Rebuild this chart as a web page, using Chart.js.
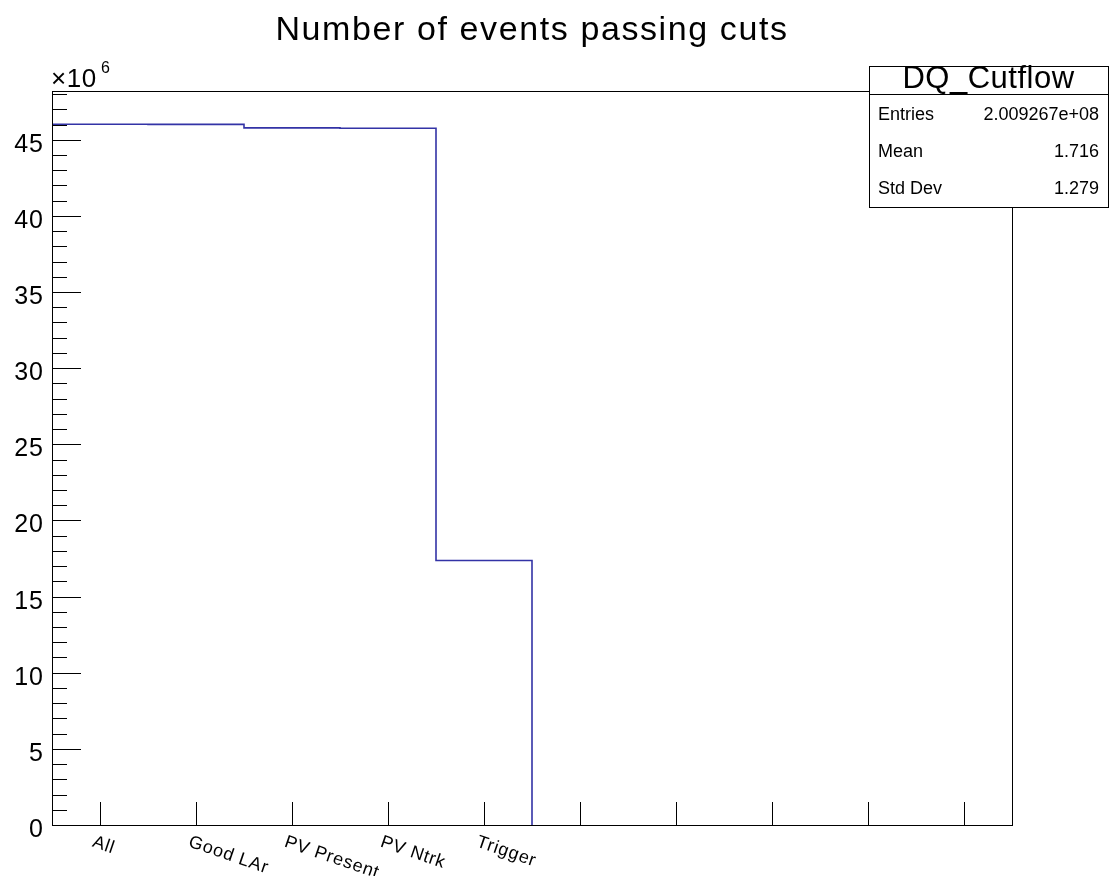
<!DOCTYPE html>
<html>
<head>
<meta charset="utf-8">
<script src="https://cdn.jsdelivr.net/npm/chart.js@4"></script>
<style>
  html, body { margin: 0; padding: 0; background: #fff; }
  #wrap { width: 1110px; height: 876px; }
</style>
</head>
<body>
<div id="wrap"><canvas id="cutflow" width="1110" height="876"></canvas></div>
<script>
// bin labels and contents (units of 1e6 events)
const binLabels = ['All', 'Good LAr', 'PV Present', 'PV Ntrk', 'Trigger', '', '', '', '', ''];
const binValues = [46.02, 46.01, 45.78, 45.75, 17.37, 0, 0, 0, 0, 0];
const yTicks = [0, 5, 10, 15, 20, 25, 30, 35, 40, 45];
const statNames = ['Entries', 'Mean', 'Std Dev'];
const statValues = ['2.009267e+08', '1.716', '1.279'];

const FONT = '"Liberation Sans", Arial, sans-serif';
const LINE_COLOR = '#3333a6';

// step outline: one point per bin low edge, stop after the last filled bin
// (the empty tail lies on the x axis and is hidden by it in ROOT)
let lastFilled = 0;
binValues.forEach((v, i) => { if (v !== 0) lastFilled = i; });
const stepPoints = binValues.slice(0, lastFilled + 1).map((v, i) => ({ x: i, y: v }));
stepPoints.push({ x: lastFilled + 1, y: 0 });

// frame, inward ticks, labels, title and stats box, ROOT style
const rootStyle = {
  id: 'rootStyle',
  afterDraw(chart) {
    const ctx = chart.ctx;
    const a = chart.chartArea;
    const xs = chart.scales.x, ys = chart.scales.y;
    ctx.save();
    ctx.strokeStyle = '#000';
    ctx.lineWidth = 1;

    // frame
    ctx.strokeRect(a.left + 0.5, a.top + 0.5, a.right - a.left, a.bottom - a.top);

    // y ticks: major every 5, minor every 1
    ctx.beginPath();
    for (let v = 0; v <= ys.max; v += 1) {
      const py = Math.round(ys.getPixelForValue(v)) + 0.5;
      const len = v % 5 === 0 ? 29 : 15;
      ctx.moveTo(a.left, py);
      ctx.lineTo(a.left + len, py);
    }
    // x ticks at bin centres
    binLabels.forEach((lab, i) => {
      const px = Math.round(xs.getPixelForValue(i + 0.5)) + 0.5;
      ctx.moveTo(px, a.bottom);
      ctx.lineTo(px, a.bottom - 23);
    });
    ctx.stroke();

    // y tick labels
    ctx.fillStyle = '#000';
    ctx.font = '25px ' + FONT;
    ctx.letterSpacing = '1px';
    ctx.textAlign = 'right';
    ctx.textBaseline = 'alphabetic';
    yTicks.forEach(v => {
      ctx.fillText(String(v), a.left - 8, ys.getPixelForValue(v) + 12);
    });

    // exponent
    ctx.textAlign = 'left';
    ctx.letterSpacing = '0.5px';
    ctx.font = '26px ' + FONT;
    ctx.fillText('\u00d710', 51, 87);
    ctx.font = '16px ' + FONT;
    ctx.fillText('6', 101, 73);

    // x bin labels, rotated clockwise
    ctx.font = '18px ' + FONT;
    ctx.letterSpacing = '0.8px';
    binLabels.forEach((lab, i) => {
      if (!lab) return;
      const px = xs.getPixelForValue(i + 0.5);
      ctx.save();
      ctx.translate(px - 4, a.bottom + 8);
      ctx.rotate(19 * Math.PI / 180);
      ctx.textAlign = 'left';
      ctx.textBaseline = 'top';
      ctx.fillText(lab, 0, 0);
      ctx.restore();
    });

    // title
    ctx.font = '34px ' + FONT;
    ctx.letterSpacing = '1.6px';
    ctx.textAlign = 'center';
    ctx.textBaseline = 'alphabetic';
    ctx.fillText('Number of events passing cuts', 532, 40);

    // stats box
    const bx = 869, by = 66, bw = 239, bh = 141;
    ctx.letterSpacing = '0px';
    ctx.fillStyle = '#fff';
    ctx.fillRect(bx, by, bw, bh);
    ctx.strokeRect(bx + 0.5, by + 0.5, bw, bh);
    ctx.beginPath();
    ctx.moveTo(bx, by + 28.5);
    ctx.lineTo(bx + bw, by + 28.5);
    ctx.stroke();
    ctx.fillStyle = '#000';
    ctx.font = '31px ' + FONT;
    ctx.letterSpacing = '0.5px';
    ctx.fillText('DQ_Cutflow', bx + bw / 2, 88);
    ctx.font = '18px ' + FONT;
    ctx.letterSpacing = '0px';
    statNames.forEach((n, i) => {
      const ty = 120 + i * 37;
      ctx.textAlign = 'left';
      ctx.fillText(n, bx + 9, ty);
      ctx.textAlign = 'right';
      ctx.fillText(statValues[i], bx + bw - 9, ty);
    });
    ctx.restore();
  }
};

new Chart(document.getElementById('cutflow'), {
  type: 'line',
  data: {
    datasets: [{
      data: stepPoints,
      stepped: 'before',
      borderColor: LINE_COLOR,
      borderWidth: 1.6,
      pointRadius: 0,
      fill: false
    }]
  },
  options: {
    responsive: false,
    animation: false,
    layout: { padding: { left: 52, top: 91, right: 98, bottom: 51 } },
    plugins: { legend: { display: false }, tooltip: { enabled: false } },
    scales: {
      x: { type: 'linear', min: 0, max: binLabels.length, display: false },
      y: { min: 0, max: 48.2, display: false }
    }
  },
  plugins: [rootStyle]
});
</script>
</body>
</html>
